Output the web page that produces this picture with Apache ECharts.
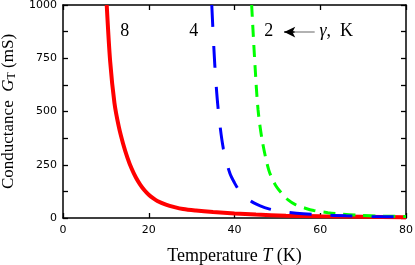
<!DOCTYPE html>
<html>
<head>
<meta charset="utf-8">
<script src="https://cdn.jsdelivr.net/npm/echarts@6/dist/echarts.min.js"></script>
<style>html,body{margin:0;padding:0;background:#fff}#c{width:415px;height:265px}</style>
</head>
<body>
<div id="c"></div>
<script>
// gamma = 8 K (red)
const redT = [10.2, 11, 12, 13, 14, 15, 16, 17, 18, 19, 20, 21, 22, 24, 26, 28, 31, 35, 40, 45, 52, 60, 70, 80];
const redG = [1000, 735, 540, 430, 350, 285, 232, 190, 157, 130, 109, 93, 80, 63, 51, 42, 35, 28, 21, 16, 11, 8, 6, 4];
// gamma = 4 K (blue)
const blueT = [34.7, 35.4, 36.2, 37.4, 38.9, 40, 41.3, 42.8, 44.4, 46, 48, 49.8, 52, 56, 60, 66, 72, 80];
const blueG = [1000, 720, 510, 325, 211, 165, 123, 94, 72, 57, 43, 35, 28, 20, 15, 10, 7, 5];
// gamma = 2 K (green)
const greenT = [44, 44.8, 45.5, 46.5, 48, 49.4, 51, 52.5, 54.2, 56.5, 58.5, 61.8, 64.6, 69, 74, 80];
const greenG = [1000, 710, 507, 360, 225, 160, 116, 85, 63, 46, 35, 25, 19, 13, 9, 7];
const xTicks = [0, 20, 40, 60, 80];
const yTicks = [0, 250, 500, 750, 1000];
const gammaLabels = ['8', '4', '2'];

const pairs = (xs, ys) => xs.map((x, i) => [x, ys[i]]);
const serif = 'Liberation Serif';
const sans = 'DejaVu Sans';

const chart = echarts.init(document.getElementById('c'), null, {renderer: 'canvas'});
const axisCommon = {
  axisLine: {show: true, onZero: false, lineStyle: {color: '#000', width: 1.5}},
  axisTick: {show: true, inside: true, length: 5, lineStyle: {color: '#000', width: 1.3}},
  splitLine: {show: false}
};
const lineSmooth = 0.3;
const option = {
  animation: false,
  grid: {left: 63, right: 9, top: 5, bottom: 47, containLabel: false, outerBoundsMode: 'none'},
  xAxis: [
    Object.assign({
      type: 'value', min: 0, max: 80, interval: 20, position: 'bottom',
      axisLabel: {fontFamily: sans, fontSize: 11, color: '#000', margin: 7,
        formatter: v => xTicks.includes(v) ? String(v) : ''},
      name: '{a|Temperature }{i|T}{a| (K)}', nameLocation: 'middle', nameGap: 29,
      nameTextStyle: {rich: {
        a: {fontFamily: serif, fontSize: 18, color: '#000'},
        i: {fontFamily: serif, fontSize: 18, fontStyle: 'italic', color: '#000'}
      }}
    }, axisCommon),
    Object.assign({
      type: 'value', min: 0, max: 80, interval: 20, position: 'top',
      axisLabel: {show: false}
    }, axisCommon)
  ],
  yAxis: [
    Object.assign({
      type: 'value', min: 0, max: 1000, interval: 250, position: 'left',
      minorTick: {show: true, splitNumber: 2, length: 5, lineStyle: {color: '#000', width: 1.3}},
      axisLabel: {fontFamily: sans, fontSize: 11, color: '#000', margin: 6,
        formatter: v => yTicks.includes(v) ? String(v) : ''},
      name: '{a|Conductance  }{i|G}{s|T}{a| (mS)}', nameLocation: 'middle', nameGap: 40, nameRotate: 90,
      nameTextStyle: {rich: {
        a: {fontFamily: serif, fontSize: 17, color: '#000'},
        i: {fontFamily: serif, fontSize: 17, fontStyle: 'italic', color: '#000'},
        s: {fontFamily: serif, fontSize: 12, color: '#000', verticalAlign: 'bottom', padding: [8, 0, 0, 0]}
      }}
    }, axisCommon),
    Object.assign({
      type: 'value', min: 0, max: 1000, interval: 250, position: 'right',
      minorTick: {show: true, splitNumber: 2, length: 5, lineStyle: {color: '#000', width: 1.3}},
      axisLabel: {show: false}
    }, axisCommon)
  ],
  series: [
    {
      type: 'line', data: pairs(greenT, greenG), showSymbol: false, smooth: lineSmooth,
      lineStyle: {color: '#00ff00', width: 3, type: [12, 8]}, clip: true, z: 2
    },
    {
      type: 'line', data: pairs(blueT, blueG), showSymbol: false, smooth: lineSmooth,
      lineStyle: {color: '#0000ff', width: 3, type: [22, 19]}, clip: true, z: 3
    },
    {
      type: 'line', data: pairs(redT, redG), showSymbol: false, smooth: lineSmooth,
      lineStyle: {color: '#ff0000', width: 4}, clip: true, z: 1,
      markLine: {
        silent: true, animation: false,
        label: {show: false},
        symbol: ['none', 'none'],
        data: [
          [{coord: [58.7, 873], lineStyle: {color: '#999', width: 1.5, type: 'solid'}},
           {coord: [53.0, 873]}],
          [{coord: [54.0, 873], symbol: 'none', lineStyle: {color: '#000', width: 1.5, type: 'solid'}},
           {coord: [51.6, 873], symbol: 'arrow', symbolSize: [8, 11]}]
        ]
      }
    }
  ]
};
chart.setOption(option);

const labelPos = [[14.4, 878], [30.5, 878], [48.0, 878]];
const g = [];
labelPos.forEach((p, i) => {
  const px = chart.convertToPixel({xAxisIndex: 0, yAxisIndex: 0}, p);
  g.push({type: 'text', x: px[0], y: px[1], style: {text: gammaLabels[i], font: '18px "' + serif + '"', fill: '#000', align: 'center', verticalAlign: 'middle'}});
});
const gk = chart.convertToPixel({xAxisIndex: 0, yAxisIndex: 0}, [59.8, 878]);
g.push({type: 'text', x: gk[0], y: gk[1], style: {
  text: '{i|γ}{a|,  K}', align: 'left', verticalAlign: 'middle',
  rich: {i: {fontFamily: serif, fontSize: 18, fontStyle: 'italic', fill: '#000'}, a: {fontFamily: serif, fontSize: 18, fill: '#000'}}
}});
chart.setOption({graphic: g});
</script>
</body>
</html>
